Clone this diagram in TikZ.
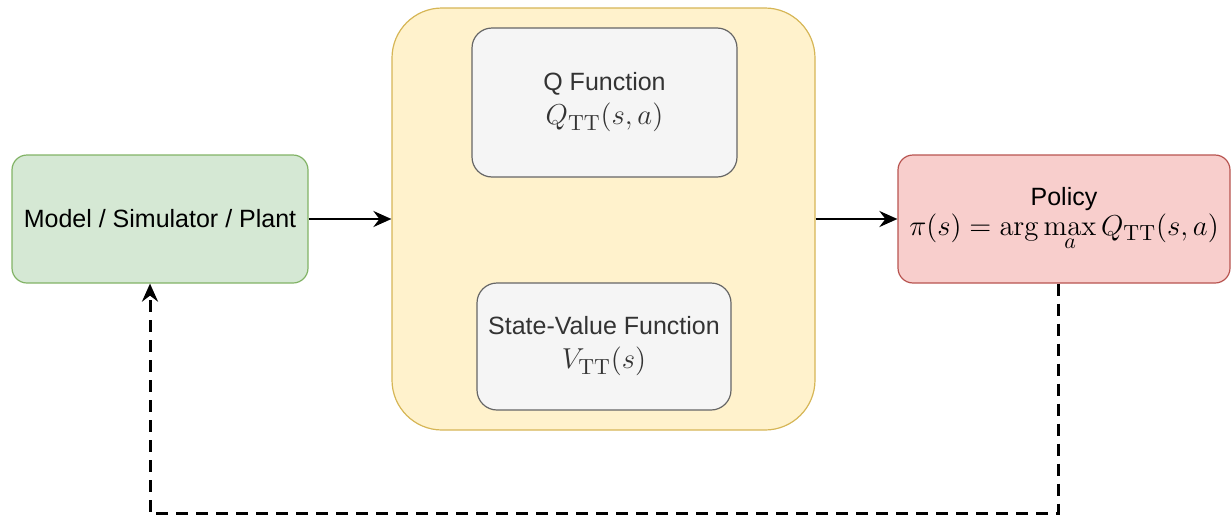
\documentclass[tikz,border=0pt]{standalone}
\usepackage[no-math]{fontspec}
\setmainfont{Liberation Sans}
\usepackage{tikz}
\usetikzlibrary{arrows.meta,positioning}

\definecolor{simfill}{HTML}{D5E8D4}
\definecolor{simdraw}{HTML}{82B366}
\definecolor{corefill}{HTML}{FFF2CC}
\definecolor{coredraw}{HTML}{D6B656}
\definecolor{fnfill}{HTML}{F5F5F5}
\definecolor{fndraw}{HTML}{666666}
\definecolor{polfill}{HTML}{F8CECC}
\definecolor{poldraw}{HTML}{B85450}

\newcommand{\mbig}[1]{{\fontsize{15}{18}\selectfont $#1$}}

\tikzset{
  box/.style={draw, line width=0.6pt, align=center, inner sep=0pt,
    font=\fontsize{12.5}{16}\selectfont},
  simbox/.style={box, fill=simfill, draw=simdraw, rounded corners=7.5pt,
    minimum width=148pt, minimum height=64pt},
  corebox/.style={box, fill=corefill, draw=coredraw, rounded corners=25pt,
    minimum width=211.5pt, minimum height=211pt},
  fnbox/.style={box, fill=fnfill, draw=fndraw, rounded corners=10pt, text=black!80},
  polbox/.style={box, fill=polfill, draw=poldraw, rounded corners=7.5pt,
    minimum width=166pt, minimum height=64pt},
  flow/.style={-{Stealth[length=9pt,width=8pt,inset=3pt]}, line width=1.2pt},
  feedback/.style={flow, dash pattern=on 6pt off 4pt, line width=1.5pt}
}

\begin{document}
\begin{tikzpicture}[x=0.5pt, y=-0.5pt]
  \useasboundingbox (0,0) rectangle (1232,520);

  % plant on the left
  \node[simbox] (sim) at (160,219) {Model / Simulator / Plant};

  % learned functions
  \node[corebox] (core) at (603.5,219) {};
  \node[fnbox, minimum width=132.5pt, minimum height=74.5pt] (qfun) at (604.5,102.5)
    {Q Function\\[1pt] \mbig{Q_{\mathrm{TT}}(s,a)}};
  \node[fnbox, minimum width=127pt, minimum height=63.5pt] (vfun) at (604,346.5)
    {State-Value Function\\[1pt] \mbig{V_{\mathrm{TT}}(s)}};

  % greedy policy
  \node[polbox] (policy) at (1064,219)
    {Policy\\[-1pt] {\fontsize{15.5}{18}\selectfont $\pi(s) = \arg\max\limits_a Q_{\mathrm{TT}}(s,a)$}};

  \draw[flow] (sim.east) -- (core.west);
  \draw[flow] (core.east) -- (policy.west);

  % feedback loop
  \draw[feedback] ([xshift=-3pt]policy.south) -- ++(0,230) -| ([xshift=-5pt]sim.south);
\end{tikzpicture}
\end{document}
